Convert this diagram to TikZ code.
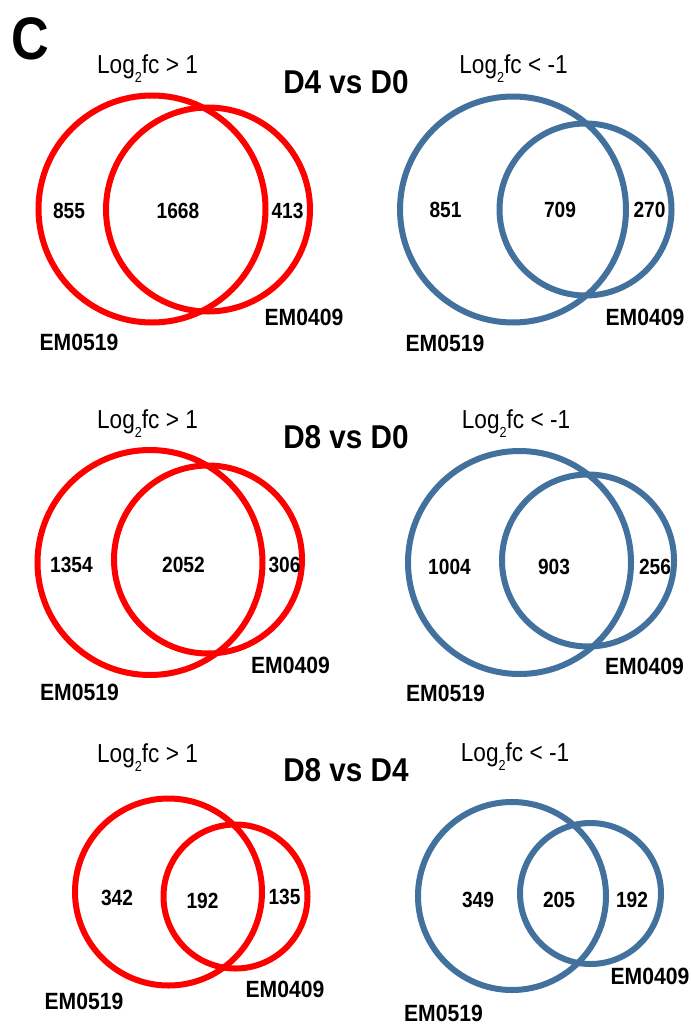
\documentclass[tikz,border=0pt]{standalone}
\usepackage{fontspec}
\newfontfamily\nb[FakeStretch=0.87]{Liberation Sans}
\newfontfamily\nl[FakeStretch=0.9]{Liberation Sans}
\definecolor{vred}{RGB}{255,0,0}
\definecolor{vblue}{RGB}{66,113,158}
\newcommand\logtwo{Log\raisebox{-9pt}{\fontsize{14.5}{14.5}\selectfont 2}fc}
\begin{document}
\begin{tikzpicture}[x=1pt,y=-1pt,
  num/.style={font=\nb\bfseries\fontsize{22}{22}\selectfont, inner sep=0pt},
  lab/.style={font=\nl\bfseries\fontsize{23.5}{23.5}\selectfont, inner sep=0pt},
  ttl/.style={font=\nl\bfseries\fontsize{33}{33}\selectfont, inner sep=0pt},
  lg/.style={font=\nb\fontsize{26}{26}\selectfont, inner sep=0pt, anchor=base},
  redc/.style={draw=vred, line width=6pt},
  bluec/.style={draw=vblue, line width=6pt}]
\useasboundingbox (0,0) rectangle (690,1024);
\fill[white] (0,0) rectangle (690,1024);
\node[font=\nb\bfseries\fontsize{60}{60}\selectfont, inner sep=0pt] (panel) at (30,39) {C};
% titles
\node[ttl] (t1) at (346,82) {D4 vs D0};
\node[ttl] (t2) at (346,437) {D8 vs D0};
\node[ttl] (t3) at (346,770) {D8 vs D4};
% log labels
\node[lg] (l1a) at (147.5,74) {\logtwo{} > 1};
\node[lg] (l1b) at (513.5,74) {\logtwo{} < -1};
\node[lg] (l2a) at (147.5,428) {\logtwo{} > 1};
\node[lg] (l2b) at (516,428) {\logtwo{} < -1};
\node[lg] (l3a) at (147.5,762) {\logtwo{} > 1};
\node[lg] (l3b) at (515,761) {\logtwo{} < -1};
% panel 1
\draw[redc] (152,209) circle (113.5);
\draw[redc] (208,209.5) circle (102);
\draw[bluec] (513,209.5) circle (113);
\draw[bluec] (585.5,209.5) circle (86);
\node[num] (n1a) at (69,210.5) {855};
\node[num] (n1b) at (178,210.5) {1668};
\node[num] (n1c) at (287.5,210.5) {413};
\node[lab] (e1a) at (304,317) {EM0409};
\node[lab] (f1a) at (79,342) {EM0519};
\node[num] (n1d) at (445.5,210) {851};
\node[num] (n1e) at (560,210) {709};
\node[num] (n1f) at (649.5,210) {270};
\node[lab] (e1b) at (645,317) {EM0409};
\node[lab] (f1b) at (445,343) {EM0519};
% panel 2
\draw[redc] (150,562.5) circle (112.5);
\draw[redc] (208,559.5) circle (94);
\draw[bluec] (519.5,562.5) circle (111.5);
\draw[bluec] (588,560.5) circle (86);
\node[num] (n2a) at (71.5,565) {1354};
\node[num] (n2b) at (183.5,565) {2052};
\node[num] (n2c) at (284.5,565) {306};
\node[lab] (e2a) at (290.5,665) {EM0409};
\node[lab] (f2a) at (79.5,692) {EM0519};
\node[num] (n2d) at (449.5,567) {1004};
\node[num] (n2e) at (554,567) {903};
\node[num] (n2f) at (655,567) {256};
\node[lab] (e2b) at (644.5,666.5) {EM0409};
\node[lab] (f2b) at (445.5,693.5) {EM0519};
% panel 3
\draw[redc] (168.5,892) circle (93.5);
\draw[redc] (235.5,896.5) circle (72);
\draw[bluec] (512,896) circle (94);
\draw[bluec] (590.5,893.5) circle (70.5);
\node[num] (n3a) at (117,898) {342};
\node[num] (n3b) at (202.5,900.5) {192};
\node[num] (n3c) at (284.5,897) {135};
\node[lab] (e3a) at (285,989) {EM0409};
\node[lab] (f3a) at (84,1001) {EM0519};
\node[num] (n3d) at (478,899.5) {349};
\node[num] (n3e) at (559,899.5) {205};
\node[num] (n3f) at (632,899.5) {192};
\node[lab] (e3b) at (650,976) {EM0409};
\node[lab] (f3b) at (443.5,1013) {EM0519};
\end{tikzpicture}
\end{document}
